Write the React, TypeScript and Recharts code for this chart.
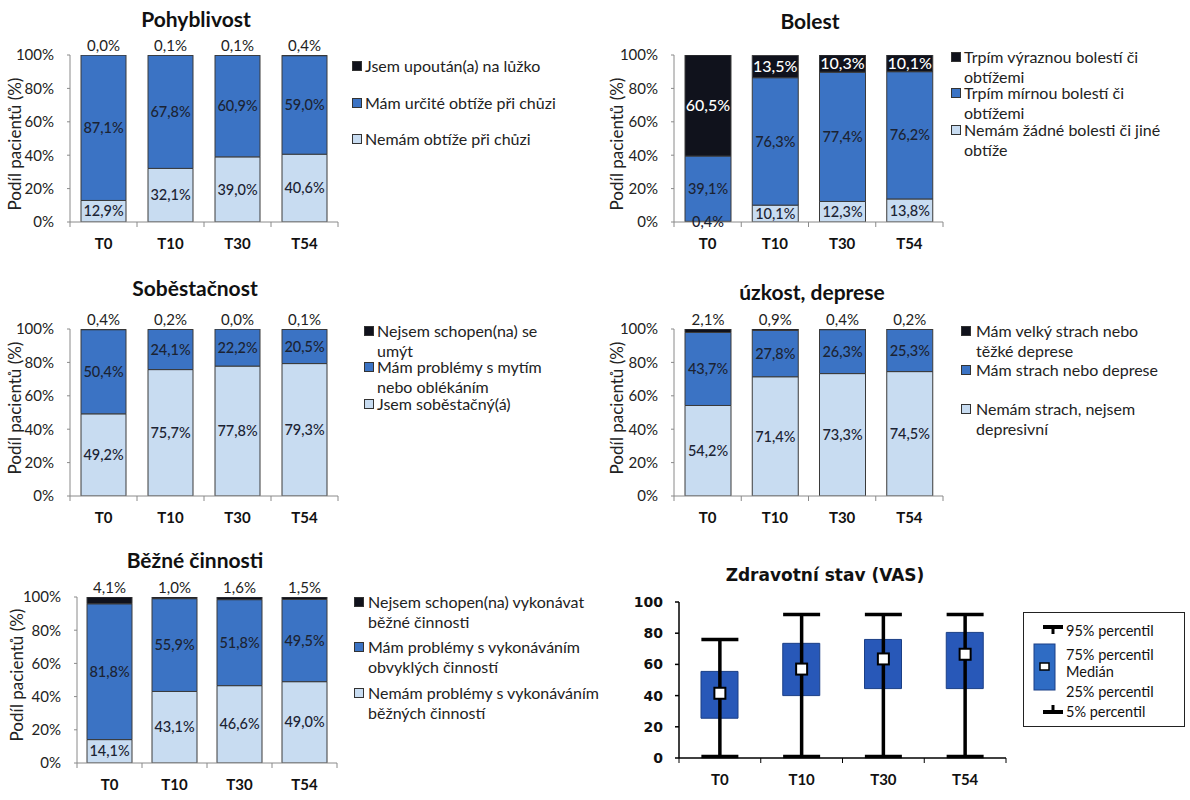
import React from "react";
import {
  Bar,
  BarChart,
  ComposedChart,
  ErrorBar,
  LabelList,
  Scatter,
  XAxis,
  YAxis,
} from "recharts";

// Kategorie (časové body)
const CATEGORIES = ["T0", "T10", "T30", "T54"];
const PCT_TICKS = [0, 20, 40, 60, 80, 100];
const VAS_TICKS = [0, 20, 40, 60, 80, 100];

// Pohyblivost
const pohybLow = [12.9, 32.1, 39.0, 40.6];
const pohybMid = [87.1, 67.8, 60.9, 59.0];
const pohybTop = [0.0, 0.1, 0.1, 0.4];
const pohybLegend = ["Jsem upoután(a) na lůžko", "Mám určité obtíže při chůzi", "Nemám obtíže při chůzi"];

// Bolest
const bolestLow = [0.4, 10.1, 12.3, 13.8];
const bolestMid = [39.1, 76.3, 77.4, 76.2];
const bolestTop = [60.5, 13.5, 10.3, 10.1];
const bolestLegend = [
  "Trpím výraznou bolestí či\nobtížemi",
  "Trpím mírnou bolestí či\nobtížemi",
  "Nemám žádné bolesti či jiné\nobtíže",
];

// Soběstačnost
const sobeLow = [49.2, 75.7, 77.8, 79.3];
const sobeMid = [50.4, 24.1, 22.2, 20.5];
const sobeTop = [0.4, 0.2, 0.0, 0.1];
const sobeLegend = ["Nejsem schopen(na) se\numýt", "Mám problémy s mytím\nnebo oblékáním", "Jsem soběstačný(á)"];

// úzkost, deprese
const uzkLow = [54.2, 71.4, 73.3, 74.5];
const uzkMid = [43.7, 27.8, 26.3, 25.3];
const uzkTop = [2.1, 0.9, 0.4, 0.2];
const uzkLegend = ["Mám velký strach nebo\ntěžké deprese", "Mám strach nebo deprese", "Nemám strach, nejsem\ndepresivní"];

// Běžné činnosti
const bezLow = [14.1, 43.1, 46.6, 49.0];
const bezMid = [81.8, 55.9, 51.8, 49.5];
const bezTop = [4.1, 1.0, 1.6, 1.5];
const bezLegend = [
  "Nejsem schopen(na) vykonávat\nběžné činnosti",
  "Mám problémy s vykonáváním\nobvyklých činností",
  "Nemám problémy s vykonáváním\nběžných činností",
];

// Zdravotní stav (VAS) – percentily
const vasP5 = [1, 1, 1, 1];
const vasP25 = [25.5, 40, 44.5, 44.5];
const vasMedian = [41.5, 57, 63.5, 66.5];
const vasP75 = [55.5, 73.5, 76, 80.5];
const vasP95 = [76, 92, 92, 92];
const vasLegend = ["95% percentil", "75% percentil", "Medián", "25% percentil", "5% percentil"];

const FONT = "Lato, 'Noto Sans', sans-serif";
const VFONT = "'DejaVu Sans', sans-serif";
const AXIS = "#8a8a8a";
const EDGE = "#3a3a3a";
const C_TOP = "#10121c";
const C_MID = "#3b73c4";
const C_LOW = "#c8dcf1";
const C_LABEL = "#1b2333";
const C_BOX = "#2858b8";

const fmt = (v: number) => `${v.toFixed(1).replace(".", ",")}%`;

const YW = 60;
const XH = 34;
const M = { top: 26, right: 6, left: 2, bottom: 2 };

// osa X ve stylu Excelu: značky na hranicích kategorií
function CatTick(props: any) {
  const { x, y, payload, index, band, count, color, font, size } = props;
  const lines = [x - band / 2];
  if (index === count - 1) lines.push(x + band / 2);
  return (
    <g>
      {lines.map((lx: number, i: number) => (
        <line key={i} x1={lx} x2={lx} y1={y} y2={y + 5} stroke={color} strokeWidth={1} />
      ))}
      <text
        x={x}
        y={y + 21}
        textAnchor="middle"
        dominantBaseline="central"
        fontFamily={font}
        fontWeight="bold"
        fontSize={size}
        fill="#111"
      >
        {payload.value}
      </text>
    </g>
  );
}

type Layout = {
  x0: number;
  x1: number;
  y0: number;
  y1: number;
  bar: number;
  titleX: number;
  titleY: number;
  yLabX: number;
  yLabY: number;
  sqX: number;
  textX: number;
  legendYs: number[];
  topInside?: boolean;
};

function Title({ x, y, text, font, size }: { x: number; y: number; text: string; font: string; size: number }) {
  return (
    <div
      style={{
        position: "absolute",
        left: x - 200,
        top: y - 15,
        width: 400,
        height: 30,
        lineHeight: "30px",
        textAlign: "center",
        fontFamily: font,
        fontWeight: "bold",
        fontSize: size,
        color: "#111",
        whiteSpace: "nowrap",
      }}
    >
      {text}
    </div>
  );
}

function YLabel({ x, y }: { x: number; y: number }) {
  return (
    <div
      style={{
        position: "absolute",
        left: x - 100,
        top: y - 11,
        width: 200,
        height: 22,
        lineHeight: "22px",
        textAlign: "center",
        transform: "rotate(-90deg)",
        fontFamily: FONT,
        fontSize: 17,
        color: "#222",
        whiteSpace: "nowrap",
      }}
    >
      Podíl pacientů (%)
    </div>
  );
}

function StackPanel({
  p,
  title,
  low,
  mid,
  top,
  legend,
}: {
  p: Layout;
  title: string;
  low: number[];
  mid: number[];
  top: number[];
  legend: string[];
}) {
  const pw = p.x1 - p.x0;
  const ph = p.y1 - p.y0;
  const W = M.left + YW + pw + M.right;
  const H = M.top + ph + XH + M.bottom;
  const data = CATEGORIES.map((c, i) => ({ name: c, low: low[i], mid: mid[i], top: top[i] }));
  const band = pw / CATEGORIES.length;
  const colors = [C_TOP, C_MID, C_LOW];

  return (
    <>
      <Title x={p.titleX} y={p.titleY} text={title} font={FONT} size={21} />
      <YLabel x={p.yLabX} y={p.yLabY} />
      <div style={{ position: "absolute", left: p.x0 - YW - M.left, top: p.y0 - M.top }}>
        <BarChart width={W} height={H} data={data} margin={M} barSize={p.bar}>
          <XAxis
            dataKey="name"
            height={XH}
            interval={0}
            tickLine={false}
            tickSize={0}
            tickMargin={0}
            stroke={AXIS}
            tick={<CatTick band={band} count={CATEGORIES.length} color={AXIS} font={FONT} size={15} />}
          />
          <YAxis
            width={YW}
            domain={[0, 100]}
            ticks={PCT_TICKS}
            allowDataOverflow
            tickFormatter={(v: number) => `${v}%`}
            stroke={AXIS}
            tickSize={3}
            tickMargin={13}
            tick={{ fontSize: 15, fill: "#222", fontFamily: FONT }}
          />
          <Bar dataKey="low" stackId="s" fill={C_LOW} stroke={EDGE} strokeWidth={1} isAnimationActive={false}>
            <LabelList
              dataKey="low"
              position="center"
              formatter={(v: any) => fmt(Number(v))}
              fill={C_LABEL}
              style={{ fontSize: 14.5, fontFamily: FONT, fontWeight: 500 }}
            />
          </Bar>
          <Bar dataKey="mid" stackId="s" fill={C_MID} stroke={EDGE} strokeWidth={1} isAnimationActive={false}>
            <LabelList
              dataKey="mid"
              position="center"
              formatter={(v: any) => fmt(Number(v))}
              fill={C_LABEL}
              style={{ fontSize: 14.5, fontFamily: FONT, fontWeight: 500 }}
            />
          </Bar>
          <Bar
            dataKey="top"
            stackId="s"
            fill={C_TOP}
            stroke={EDGE}
            strokeWidth={1}
            minPointSize={0.5}
            isAnimationActive={false}
          >
            {p.topInside ? (
              <LabelList
                dataKey="top"
                position="center"
                formatter={(v: any) => fmt(Number(v))}
                fill="#ffffff"
                style={{ fontSize: 16, fontFamily: FONT, fontWeight: 500 }}
              />
            ) : (
              <LabelList
                dataKey="top"
                position="top"
                offset={4}
                formatter={(v: any) => fmt(Number(v))}
                fill="#222"
                style={{ fontSize: 15, fontFamily: FONT }}
              />
            )}
          </Bar>
        </BarChart>
      </div>
      {legend.map((label, i) => (
        <React.Fragment key={label}>
          <div
            style={{
              position: "absolute",
              left: p.sqX,
              top: p.legendYs[i] - 5,
              width: 10,
              height: 10,
              boxSizing: "border-box",
              background: colors[i],
              border: "1px solid #333",
            }}
          />
          <div
            style={{
              position: "absolute",
              left: p.textX,
              top: p.legendYs[i] - 10,
              lineHeight: "20px",
              fontFamily: FONT,
              fontSize: 16,
              color: "#222",
              whiteSpace: "pre",
            }}
          >
            {label}
          </div>
        </React.Fragment>
      ))}
    </>
  );
}

const P1: Layout = { x0: 70, x1: 338, y0: 55, y1: 222, bar: 45, titleX: 196, titleY: 19, yLabX: 15, yLabY: 144, sqX: 352, textX: 365, legendYs: [66, 103, 139] };
const P2: Layout = { x0: 674, x1: 943, y0: 55, y1: 222, bar: 46, titleX: 810, titleY: 21, yLabX: 617, yLabY: 144, sqX: 951, textX: 964, legendYs: [57, 93, 130], topInside: true };
const P3: Layout = { x0: 70, x1: 338, y0: 329, y1: 496, bar: 45, titleX: 195, titleY: 288, yLabX: 15, yLabY: 408, sqX: 364, textX: 377, legendYs: [331, 367, 404] };
const P4: Layout = { x0: 674, x1: 943, y0: 329, y1: 496, bar: 46, titleX: 812, titleY: 292, yLabX: 617, yLabY: 408, sqX: 961, textX: 976, legendYs: [331, 370, 409] };
const P5: Layout = { x0: 77, x1: 337, y0: 597, y1: 763, bar: 45, titleX: 195, titleY: 560, yLabX: 17, yLabY: 675, sqX: 354, textX: 368, legendYs: [602, 647, 693] };

// box plot
const VP = { x0: 679, x1: 1006, y0: 602, y1: 758, box: 37 };

function MedianMark(props: any) {
  const { cx, cy } = props;
  if (cx == null || cy == null) return null;
  return <rect x={cx - 5.5} y={cy - 5.5} width={11} height={11} fill="#fff" stroke="#000" strokeWidth={2} />;
}

function VasPanel() {
  const pw = VP.x1 - VP.x0;
  const ph = VP.y1 - VP.y0;
  const vm = { top: 20, right: 6, left: 2, bottom: 2 };
  const W = vm.left + YW + pw + vm.right;
  const H = vm.top + ph + XH + vm.bottom;
  const band = pw / CATEGORIES.length;
  const data = CATEGORIES.map((c, i) => ({
    name: c,
    base: vasP25[i],
    box: vasP75[i] - vasP25[i],
    median: vasMedian[i],
    err: [vasMedian[i] - vasP5[i], vasP95[i] - vasMedian[i]],
  }));
  const legendText = { position: "absolute" as const, left: 1066, fontFamily: FONT, fontSize: 14.5, color: "#111", lineHeight: "18px", whiteSpace: "nowrap" as const };

  return (
    <>
      <Title x={825} y={575} text="Zdravotní stav (VAS)" font={VFONT} size={17} />
      <div style={{ position: "absolute", left: VP.x0 - YW - vm.left, top: VP.y0 - vm.top }}>
        <ComposedChart width={W} height={H} data={data} margin={vm} barSize={VP.box}>
          <XAxis
            dataKey="name"
            height={XH}
            interval={0}
            tickLine={false}
            tickSize={0}
            tickMargin={0}
            stroke="#000"
            strokeWidth={1.5}
            tick={<CatTick band={band} count={CATEGORIES.length} color="#000" font={FONT} size={15} />}
          />
          <YAxis
            width={YW}
            domain={[0, 100]}
            ticks={VAS_TICKS}
            stroke="#000"
            strokeWidth={1.5}
            tickSize={4}
            tickMargin={12}
            tick={{ fontSize: 14, fill: "#111", fontFamily: VFONT, fontWeight: "bold" }}
          />
          <Bar dataKey="base" stackId="b" fill="transparent" isAnimationActive={false} />
          <Bar dataKey="box" stackId="b" fill={C_BOX} stroke="#1b3f86" strokeWidth={1} isAnimationActive={false} />
          <Scatter dataKey="median" shape={<MedianMark />} isAnimationActive={false}>
            <ErrorBar dataKey="err" direction="y" width={VP.box / 2} stroke="#000" strokeWidth={3.5} />
          </Scatter>
        </ComposedChart>
      </div>
      {/* legenda box plotu */}
      <div
        style={{
          position: "absolute",
          left: 1023,
          top: 612,
          width: 162,
          height: 115,
          boxSizing: "border-box",
          border: "1px solid #222",
        }}
      />
      <svg style={{ position: "absolute", left: 1030, top: 615 }} width={40} height={110}>
        <line x1={13} x2={33} y1={12} y2={12} stroke="#000" strokeWidth={4} />
        <line x1={23} x2={23} y1={12} y2={19} stroke="#000" strokeWidth={3} />
        <rect x={4} y={29} width={21} height={46} fill="#2f6cc4" stroke="#1b3f86" strokeWidth={1} />
        <rect x={10} y={48} width={9} height={7} fill="#fff" stroke="#000" strokeWidth={1.5} />
        <line x1={23} x2={23} y1={90} y2={97} stroke="#000" strokeWidth={3} />
        <line x1={13} x2={33} y1={97} y2={97} stroke="#000" strokeWidth={4} />
      </svg>
      <div style={{ ...legendText, top: 631 - 9 }}>{vasLegend[0]}</div>
      <div style={{ ...legendText, top: 655 - 9 }}>{vasLegend[1]}</div>
      <div style={{ ...legendText, top: 672 - 9 }}>{vasLegend[2]}</div>
      <div style={{ ...legendText, top: 692 - 9 }}>{vasLegend[3]}</div>
      <div style={{ ...legendText, top: 712 - 9 }}>{vasLegend[4]}</div>
    </>
  );
}

export default function App() {
  return (
    <div
      style={{
        position: "absolute",
        left: 0,
        top: 0,
        width: 1190,
        height: 800,
        background: "#fff",
        overflow: "hidden",
        fontFamily: FONT,
      }}
    >
      <StackPanel p={P1} title="Pohyblivost" low={pohybLow} mid={pohybMid} top={pohybTop} legend={pohybLegend} />
      <StackPanel p={P2} title="Bolest" low={bolestLow} mid={bolestMid} top={bolestTop} legend={bolestLegend} />
      <StackPanel p={P3} title="Soběstačnost" low={sobeLow} mid={sobeMid} top={sobeTop} legend={sobeLegend} />
      <StackPanel p={P4} title="úzkost, deprese" low={uzkLow} mid={uzkMid} top={uzkTop} legend={uzkLegend} />
      <StackPanel p={P5} title="Běžné činnosti" low={bezLow} mid={bezMid} top={bezTop} legend={bezLegend} />
      <VasPanel />
    </div>
  );
}
